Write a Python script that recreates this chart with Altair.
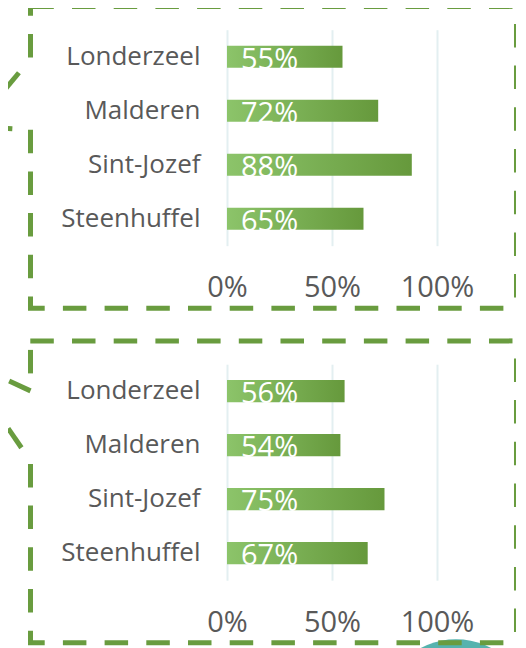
import altair as alt
import pandas as pd

# ---- data ----
towns = ["Londerzeel", "Malderen", "Sint-Jozef", "Steenhuffel"]
values_top = [0.55, 0.72, 0.88, 0.65]
values_bottom = [0.56, 0.54, 0.75, 0.67]
x_ticks = [0, 0.5, 1.0]

FONT = "Open Sans"
GREEN = "#699c3f"
GREY = "#595959"
GRID = "#e3eff1"
TEAL = "#55b3ae"
DASH = [23.5, 18.2]

gradient = alt.LinearGradient(
    gradient="linear",
    stops=[alt.GradientStop(color="#8cc46a", offset=0),
           alt.GradientStop(color="#66993c", offset=1)],
    x1=0, x2=1, y1=0, y2=0,
)

W, H = 210, 216


def seg(dummy, x, y, x2, y2, offset=0):
    return alt.Chart(dummy).mark_rule(
        color=GREEN, strokeWidth=5, strokeDash=DASH, strokeDashOffset=offset
    ).encode(x=alt.value(x), y=alt.value(y), x2=alt.value(x2), y2=alt.value(y2))


def panel(values, frame, circle=False):
    df = pd.DataFrame({"town": towns, "value": values})
    dummy = pd.DataFrame({"k": [0]})
    base = alt.Chart(df)
    yenc = alt.Y(
        "town:N", sort=towns,
        scale=alt.Scale(paddingInner=0.59, paddingOuter=0.295),
        axis=alt.Axis(title=None, labelFont=FONT, labelFontSize=26, labelColor=GREY,
                      labelPadding=27, ticks=False, domain=False, grid=False),
    )
    xenc = alt.X(
        "value:Q",
        scale=alt.Scale(domain=[0, 1], nice=False),
        axis=alt.Axis(values=x_ticks, format=".0%", title=None, labelFont=FONT,
                      labelFontSize=29, labelColor=GREY, labelPadding=28,
                      ticks=False, domain=False, grid=True, gridColor=GRID,
                      gridWidth=2, labelFlush=False),
    )
    bars = base.mark_bar(color=gradient).encode(x=xenc, y=yenc)
    labels = base.mark_text(
        align="left", baseline="alphabetic", dx=14, dy=12, color="white",
        font=FONT, fontSize=29,
    ).encode(
        x=alt.XDatum(0),
        y=alt.Y("town:N", sort=towns),
        text=alt.Text("value:Q", format=".0%"),
    )
    L, R, T, B = -196.5, 289.5, -23.3, 278.5
    layers = []
    if circle:
        layers.append(
            alt.Chart(dummy).mark_circle(fill=TEAL, fillOpacity=1, opacity=1)
            .encode(x=alt.value(229), y=alt.value(350.4), size=alt.value(22740))
        )
    f = frame
    layers += [
        seg(dummy, L - 2.5, T, R + 2.5, T, -2.3),
        seg(dummy, R, T, R, B, 24.2),
        seg(dummy, L - 2.5, B, R + 2.5, B, 6.8),
        seg(dummy, L, T, L, f["wt"], f["ul_off"]),
        seg(dummy, L, f["wb"], L, B, f["ll_off"]),
        seg(dummy, L, f["wt"], f["w1"][0], f["w1"][1], f["w1_off"]),
        seg(dummy, L, f["wb"], f["w2"][0], f["w2"][1], f["w2_off"]),
        bars,
        labels,
    ]
    return alt.layer(*layers).properties(width=W, height=H)


frame_top = dict(wt=29, wb=100, ul_off=14.2, ll_off=0,
                 w1=(-226, 64.7), w1_off=23.5, w2=(-226, 98.4), w2_off=23.5)
frame_bottom = dict(wt=26.7, wb=96.7, ul_off=32.7, ll_off=38.7,
                    w1=(-226, 13.1), w1_off=0, w2=(-226, 53.8), w2_off=25.7)

top = panel(values_top, frame_top)
bottom = panel(values_bottom, frame_bottom, circle=True)

chart = alt.vconcat(top, bottom, spacing=25.5).properties(
    padding={"left": -10, "top": -5.3, "right": -16, "bottom": 0}
).configure_view(stroke="transparent")

chart.save("out.html", embed_options={"renderer": "svg", "actions": False})
